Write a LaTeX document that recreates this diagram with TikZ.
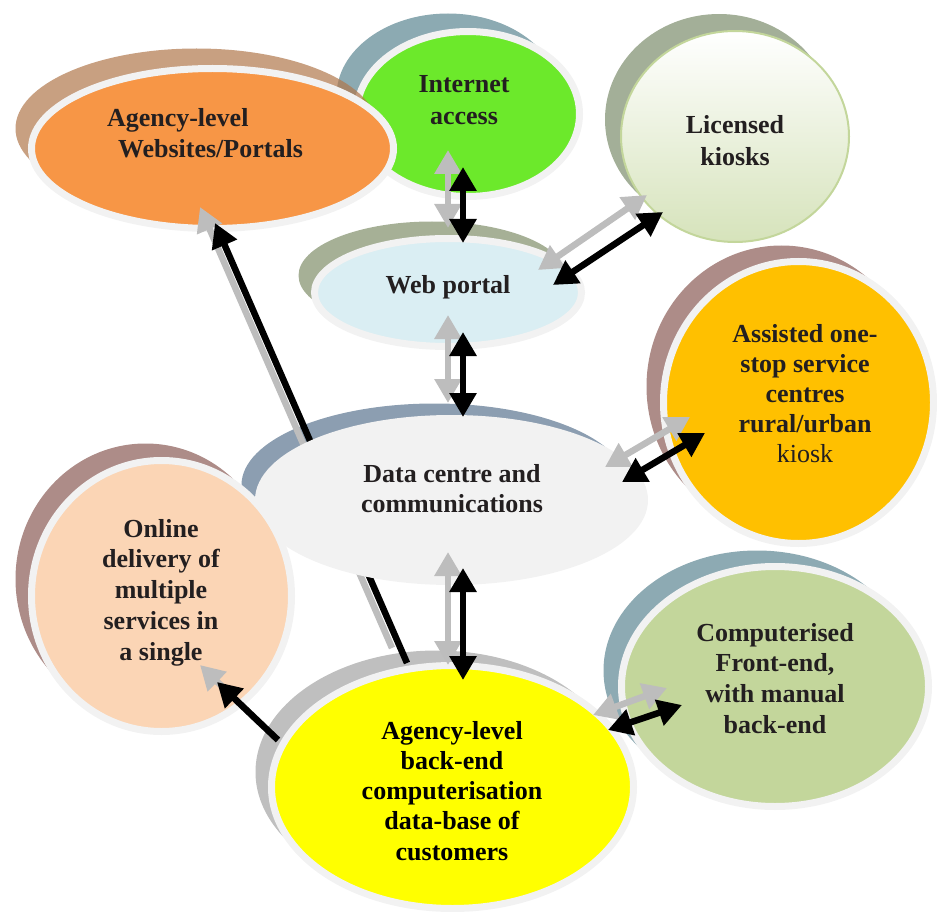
\documentclass[tikz,border=0pt]{standalone}
\usepackage{fontspec}
\setmainfont{Liberation Serif}
\usetikzlibrary{shapes.geometric,arrows.meta}

\definecolor{ringgrey}{HTML}{F2F2F2}
\definecolor{labeltext}{HTML}{231F20}
\definecolor{arrowgrey}{HTML}{BDBDBD}
\definecolor{orangefill}{HTML}{F79646}
\definecolor{orangeshadow}{HTML}{B0774C}
\definecolor{greenfill}{HTML}{6CE92B}
\definecolor{greenshadow}{HTML}{8CAAB2}
\definecolor{kioskshadow}{HTML}{A3AF98}
\definecolor{kioskborder}{HTML}{C3D69B}
\definecolor{kioskbottom}{HTML}{D6E3BB}
\definecolor{webfill}{HTML}{DAEEF3}
\definecolor{webshadow}{HTML}{A6B096}
\definecolor{assistfill}{HTML}{FFC000}
\definecolor{mauveshadow}{HTML}{AD8C88}
\definecolor{dcfill}{HTML}{F2F2F2}
\definecolor{dcshadow}{HTML}{8C9EB1}
\definecolor{peachfill}{HTML}{FBD5B5}
\definecolor{backfill}{HTML}{FFFF00}
\definecolor{backshadow}{HTML}{BFBFBF}
\definecolor{compfill}{HTML}{C3D69B}
\definecolor{compshadow}{HTML}{8DAAB3}

% centred block of lines, anchored at the baseline of its first line
\newcommand\linesc[2][30.5pt]{\vtop{\baselineskip=#1\halign{\hfil##\hfil\cr#2\crcr}}}

\tikzset{
  blob/.style={ellipse, inner sep=0pt, outer sep=0pt, line width=7pt, draw=ringgrey},
  backdrop/.style={ellipse, inner sep=0pt, outer sep=0pt, draw=none},
  lbl/.style={inner sep=0pt, outer sep=0pt, anchor=base, text=labeltext,
              font=\fontsize{26}{31}\selectfont\bfseries},
  twoway/.style={line width=6.5pt,
     {Triangle[length=24pt,width=26pt]}-{Triangle[length=24pt,width=26pt]}},
  oneway/.style={line width=6.5pt, -{Triangle[length=24pt,width=26pt]}},
  ghostarrow/.style={draw=arrowgrey},
  darkarrow/.style={draw=black},
}

\begin{document}
\begin{tikzpicture}[x=1pt,y=-1pt]
\useasboundingbox (0,0) rectangle (937,912);

% ---- Internet access
\node[backdrop, fill=greenshadow, minimum width=223pt, minimum height=165pt] (inet-s) at (448,96) {};
\node[blob, fill=greenfill, minimum width=223pt, minimum height=165pt] (inet) at (468,114) {};

% ---- Agency-level websites / portals
\node[backdrop, fill=orangeshadow, opacity=0.7, minimum width=362pt, minimum height=160pt] (sites-s) at (196.5,128.5) {};
\node[blob, fill=orangefill, minimum width=362pt, minimum height=160pt] (sites) at (212.5,148.5) {};

% ---- Licensed kiosks
\node[backdrop, fill=kioskshadow, minimum width=228pt, minimum height=211pt] (kiosk-s) at (719,119.5) {};
\node[ellipse, inner sep=0pt, outer sep=0pt, draw=kioskborder, line width=2pt,
      top color=white, bottom color=kioskbottom,
      minimum width=228pt, minimum height=211pt] (kiosk) at (735,136.5) {};

% ---- Web portal
\node[backdrop, fill=webshadow, minimum width=267pt, minimum height=108pt] (web-s) at (432,275.5) {};
\node[blob, fill=webfill, minimum width=267pt, minimum height=108pt] (web) at (448,292.5) {};

% ---- Computerised front-end
\node[backdrop, fill=compshadow, minimum width=307pt, minimum height=240pt] (comp-s) at (757,670.5) {};
\node[blob, fill=compfill, minimum width=307pt, minimum height=240pt] (comp) at (775,686.5) {};

% ---- Assisted one-stop service centres
\node[backdrop, fill=mauveshadow, minimum width=270pt, minimum height=282pt] (assist-s) at (781.5,386.5) {};
\node[blob, fill=assistfill, minimum width=270pt, minimum height=282pt] (assist) at (798.5,402.5) {};

% ---- backdrops of the data centre and the back-end
\node[backdrop, fill=dcshadow, minimum width=386pt, minimum height=163pt] (dc-s) at (434.5,485) {};
\node[backdrop, fill=backshadow, minimum width=362pt, minimum height=243pt] (back-s) at (436.5,772) {};

% ---- back-end to websites, running behind the data centre
\coordinate (sites-gt) at (200,207);
\coordinate (back-gf) at (392,648);
\coordinate (sites-bt) at (215,223);
\coordinate (back-bf) at (407,663);
\draw[oneway, ghostarrow] (back-gf) -- (sites-gt);
\draw[oneway, darkarrow] (back-bf) -- (sites-bt);

% ---- Data centre and communications
\node[blob, draw=dcfill, fill=dcfill, minimum width=386pt, minimum height=163pt] (dc) at (451.5,500) {};

% ---- Online delivery
\node[backdrop, fill=mauveshadow, minimum width=260pt, minimum height=271pt] (online-s) at (145.5,579) {};
\node[blob, fill=peachfill, minimum width=260pt, minimum height=271pt] (online) at (161.5,596) {};

% ---- Agency-level back-end computerisation
\node[blob, fill=backfill, minimum width=362pt, minimum height=243pt] (back) at (452.5,787) {};

% ---- labels
\node[lbl, anchor=base west] (sites-t) at (107,127)
  {\vtop{\baselineskip=31pt\hbox{Agency-level}\hbox{\hspace{11pt}Websites/Portals}}};
\node[lbl] (inet-t) at (464,93) {\linesc[32pt]{Internet\cr access}};
\node[lbl] (kiosk-t) at (735,134) {\linesc[32pt]{Licensed\cr kiosks}};
\node[lbl] (web-t) at (448,293) {Web portal};
\node[lbl] (assist-t) at (805,342)
  {\linesc[30pt]{Assisted one-\cr stop service\cr centres\cr rural/urban\cr {\mdseries kiosk}}};
\node[lbl] (dc-t) at (452,482) {\linesc[30pt]{Data centre and\cr communications}};
\node[lbl] (online-t) at (161,537)
  {\linesc[30.75pt]{Online\cr delivery of\cr multiple\cr services in\cr a single}};
\node[lbl, text=black] (back-t) at (452,739)
  {\linesc[30.25pt]{Agency-level\cr back-end\cr computerisation\cr data-base of\cr customers}};
\node[lbl] (comp-t) at (775,641)
  {\linesc[30.7pt]{Computerised\cr Front-end,\cr with manual\cr back-end}};

% ---- arrow end points
\coordinate (inet-g) at (448,150);   \coordinate (web-gn) at (448,228);
\coordinate (inet-b) at (463,167);   \coordinate (web-bn) at (463,243);
\coordinate (web-ge) at (538,270);   \coordinate (kiosk-g) at (647,195);
\coordinate (web-be) at (553,285);   \coordinate (kiosk-b) at (663,212);
\coordinate (web-gs) at (448,315);   \coordinate (dc-gn) at (448,403);
\coordinate (web-bs) at (463,332);   \coordinate (dc-bn) at (463,417);
\coordinate (dc-ge) at (605,467);    \coordinate (assist-g) at (690,417);
\coordinate (dc-be) at (622,482);    \coordinate (assist-b) at (705,433);
\coordinate (dc-gs) at (448,552);    \coordinate (back-gn) at (448,665);
\coordinate (dc-bs) at (463,568);    \coordinate (back-bn) at (463,680);
\coordinate (back-ge) at (593,715);  \coordinate (comp-g) at (667,688);
\coordinate (back-be) at (608,730);  \coordinate (comp-b) at (682,705);
\coordinate (back-gw) at (262,725);  \coordinate (online-g) at (200,665);
\coordinate (back-bw) at (278,740);  \coordinate (online-b) at (217,682);

% ---- connectors: light copy first, black arrow on top
\draw[twoway, ghostarrow] (inet-g) -- (web-gn);
\draw[twoway, ghostarrow] (web-ge) -- (kiosk-g);
\draw[twoway, ghostarrow] (web-gs) -- (dc-gn);
\draw[twoway, ghostarrow] (dc-ge) -- (assist-g);
\draw[twoway, ghostarrow] (dc-gs) -- (back-gn);
\draw[twoway, ghostarrow] (back-ge) -- (comp-g);
\draw[oneway, ghostarrow] (back-gw) -- (online-g);

\draw[twoway, darkarrow] (inet-b) -- (web-bn);
\draw[twoway, darkarrow] (web-be) -- (kiosk-b);
\draw[twoway, darkarrow] (web-bs) -- (dc-bn);
\draw[twoway, darkarrow] (dc-be) -- (assist-b);
\draw[twoway, darkarrow] (dc-bs) -- (back-bn);
\draw[twoway, darkarrow] (back-be) -- (comp-b);
\draw[oneway, darkarrow] (back-bw) -- (online-b);
\end{tikzpicture}
\end{document}
